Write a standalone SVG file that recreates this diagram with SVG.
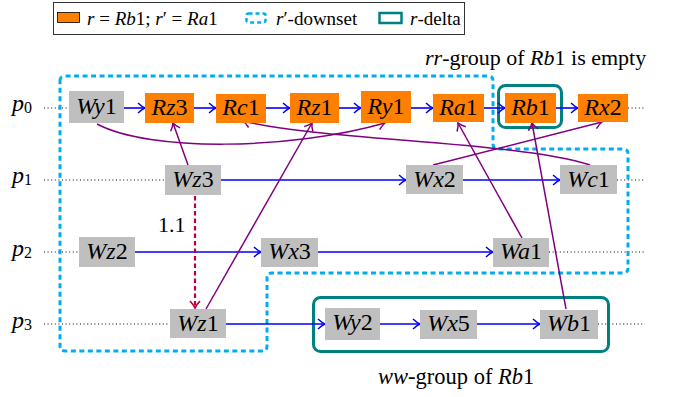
<svg xmlns="http://www.w3.org/2000/svg" width="682" height="397" viewBox="0 0 682 397" font-family="'Liberation Serif', 'Times New Roman', Times, 'DejaVu Serif', serif">
  <style>
    text { font-family: 'Liberation Serif', 'Times New Roman', Times, 'DejaVu Serif', serif; fill: #000; }
    .lbl { font-size: 24px; text-anchor: middle; font-style: italic; }
    .d { font-style: normal; }
    .i { font-style: italic; }
    .w { fill: #bfbfbf; }
    .r { fill: #ff8000; }
    .po { fill: none; stroke: #0000ff; stroke-width: 1.6; marker-end: url(#ablue); }
    .rf { fill: none; stroke: #800080; stroke-width: 1.5; marker-end: url(#apurple); }
    .dot { fill: none; stroke: #000; stroke-width: 1; stroke-dasharray: 1 2.6; }
    .down { fill: none; stroke: #00aeef; stroke-width: 3; stroke-dasharray: 5 3.5; }
    .delta { fill: none; stroke: #008080; stroke-width: 3; }
    .pn { font-size: 24px; font-style: italic; }
    .sub { font-size: 16px; font-style: normal; }
  </style>
  <defs>
    <marker id="ablue" viewBox="-9 -7 11 14" refX="0" refY="0" markerWidth="11" markerHeight="14" orient="auto" markerUnits="userSpaceOnUse">
      <path d="M-7,-5 Q-3,-1.2 0,0 Q-3,1.2 -7,5" fill="none" stroke="#0000ff" stroke-width="1.5"/>
    </marker>
    <marker id="apurple" viewBox="-9 -7 11 14" refX="0" refY="0" markerWidth="11" markerHeight="14" orient="auto" markerUnits="userSpaceOnUse">
      <path d="M-7,-5 Q-3,-1.2 0,0 Q-3,1.2 -7,5" fill="none" stroke="#800080" stroke-width="1.5"/>
    </marker>
    <marker id="acrim" viewBox="-9 -7 11 14" refX="0" refY="0" markerWidth="11" markerHeight="14" orient="auto" markerUnits="userSpaceOnUse">
      <path d="M-7,-5 Q-3,-1.2 0,0 Q-3,1.2 -7,5" fill="none" stroke="#bf0040" stroke-width="1.8"/>
    </marker>
  </defs>

  <!-- legend -->
  <g id="legend">
    <rect x="53.5" y="2.5" width="411" height="32" fill="#fff" stroke="#333" stroke-width="1"/>
    <rect x="57.5" y="12.5" width="22" height="10" fill="#ff8000" stroke="#000" stroke-width="0.8"/>
    <text x="87" y="25" font-size="19"><tspan class="i">r</tspan> = <tspan class="i">Rb</tspan>1; <tspan class="i">r</tspan>′ = <tspan class="i">Ra</tspan>1</text>
    <rect x="246.5" y="13.5" width="19" height="9" rx="2" fill="none" stroke="#00aeef" stroke-width="2.5" stroke-dasharray="4 3"/>
    <text x="276" y="25" font-size="19"><tspan class="i">r</tspan>′-downset</text>
    <rect x="379.5" y="13" width="22" height="10" fill="none" stroke="#008080" stroke-width="2.5"/>
    <text x="410" y="25" font-size="19"><tspan class="i">r</tspan>-delta</text>
  </g>

  <!-- captions -->
  <text x="425" y="65" font-size="22"><tspan class="i">rr</tspan>-group of <tspan class="i">Rb</tspan>1 is empty</text>
  <text x="378" y="384" font-size="22.5"><tspan class="i">ww</tspan>-group of <tspan class="i">Rb</tspan>1</text>

  <!-- process labels and thread lines -->
  <g id="threads">
    <text x="12" y="111" class="pn">p<tspan class="sub" dy="2">0</tspan></text>
    <text x="12" y="183" class="pn">p<tspan class="sub" dy="2">1</tspan></text>
    <text x="12" y="256" class="pn">p<tspan class="sub" dy="2">2</tspan></text>
    <text x="12" y="328" class="pn">p<tspan class="sub" dy="2">3</tspan></text>
    <path class="dot" d="M44,108 H69 M44,180 H165 M44,252 H79 M44,324 H170"/>
    <path class="dot" d="M628,108 H645 M617,180 H645 M549,252 H646 M598,324 H645"/>
  </g>

  <!-- r'-downset region -->
  <path id="downset" class="down" d="M60,81 Q60,76 65,76 H488 Q493,76 493,81 V144 Q493,149 498,149 H623 Q628,149 628,154 V268 Q628,273 623,273 H272 Q267,273 267,278 V346 Q267,351 262,351 H65 Q60,351 60,346 Z"/>

  <!-- r-delta regions -->
  <rect id="delta-rb1" class="delta" x="498.5" y="85.5" width="63" height="42" rx="7"/>
  <rect id="ww-group" class="delta" x="313.5" y="297.5" width="295" height="54" rx="7"/>

  <!-- connectors -->
  <g id="connectors">
    <!-- program order -->
    <path class="po" d="M124,108 H145"/>
    <path class="po" d="M194,108 H216"/>
    <path class="po" d="M266,108 H290"/>
    <path class="po" d="M339,108 H361"/>
    <path class="po" d="M411,108 H433"/>
    <path class="po" d="M484,108 H505"/>
    <path class="po" d="M556,108 H578"/>
    <path class="po" d="M221,180 H406"/>
    <path class="po" d="M463,180 H560"/>
    <path class="po" d="M135,252 H261"/>
    <path class="po" d="M318,252 H493"/>
    <path class="po" d="M226,324 H325"/>
    <path class="po" d="M380,324 H420"/>
    <path class="po" d="M477,324 H540"/>
    <!-- reads-from -->
    <path class="rf" d="M97,124 C150,152 290,150 385,123"/>
    <path class="rf" d="M590,165 C515,141 325,141 243,121"/>
    <path class="rf" d="M188,165 L173,123"/>
    <path class="rf" d="M206,309 L312,123"/>
    <path class="rf" d="M433,165 L602,122"/>
    <path class="rf" d="M522,238 L458,123"/>
    <path class="rf" d="M566,309 L532,123"/>
    <!-- dependency 1.1 -->
    <path d="M195,196 V308" fill="none" stroke="#bf0040" stroke-width="2.2" stroke-dasharray="4.5 3" marker-end="url(#acrim)"/>
    <text x="158" y="232" font-size="22">1.1</text>
  </g>

  <!-- events of p0 -->
  <g id="Wy1"><rect class="w" x="69" y="91" width="55" height="32"/><text class="lbl" x="96.5" y="114">Wy<tspan class="d">1</tspan></text></g>
  <g id="Rz3"><rect class="r" x="145" y="93" width="49" height="30"/><text class="lbl" x="169.5" y="115">Rz<tspan class="d">3</tspan></text></g>
  <g id="Rc1"><rect class="r" x="216" y="94" width="50" height="29"/><text class="lbl" x="241" y="115">Rc<tspan class="d">1</tspan></text></g>
  <g id="Rz1"><rect class="r" x="290" y="93" width="49" height="30"/><text class="lbl" x="314.5" y="115">Rz<tspan class="d">1</tspan></text></g>
  <g id="Ry1"><rect class="r" x="361" y="91" width="50" height="32"/><text class="lbl" x="386" y="114">Ry<tspan class="d">1</tspan></text></g>
  <g id="Ra1"><rect class="r" x="433" y="94" width="51" height="28"/><text class="lbl" x="458.5" y="115">Ra<tspan class="d">1</tspan></text></g>
  <g id="Rb1"><rect class="r" x="505" y="93" width="51" height="30"/><text class="lbl" x="530.5" y="115">Rb<tspan class="d">1</tspan></text></g>
  <g id="Rx2"><rect class="r" x="578" y="94" width="50" height="28"/><text class="lbl" x="603" y="115">Rx<tspan class="d">2</tspan></text></g>

  <!-- events of p1 -->
  <g id="Wz3"><rect class="w" x="165" y="165" width="56" height="30"/><text class="lbl" x="193" y="187">Wz<tspan class="d">3</tspan></text></g>
  <g id="Wx2"><rect class="w" x="406" y="165" width="57" height="29"/><text class="lbl" x="434.5" y="187">Wx<tspan class="d">2</tspan></text></g>
  <g id="Wc1"><rect class="w" x="560" y="165" width="57" height="29"/><text class="lbl" x="588.5" y="187">Wc<tspan class="d">1</tspan></text></g>

  <!-- events of p2 -->
  <g id="Wz2"><rect class="w" x="79" y="237" width="56" height="30"/><text class="lbl" x="107" y="259">Wz<tspan class="d">2</tspan></text></g>
  <g id="Wx3"><rect class="w" x="261" y="238" width="57" height="29"/><text class="lbl" x="289.5" y="259">Wx<tspan class="d">3</tspan></text></g>
  <g id="Wa1"><rect class="w" x="493" y="238" width="56" height="29"/><text class="lbl" x="521" y="259">Wa<tspan class="d">1</tspan></text></g>

  <!-- events of p3 -->
  <g id="Wz1"><rect class="w" x="170" y="309" width="56" height="29"/><text class="lbl" x="198" y="331">Wz<tspan class="d">1</tspan></text></g>
  <g id="Wy2"><rect class="w" x="325" y="308" width="55" height="32"/><text class="lbl" x="352.5" y="330">Wy<tspan class="d">2</tspan></text></g>
  <g id="Wx5"><rect class="w" x="420" y="310" width="57" height="29"/><text class="lbl" x="448.5" y="331">Wx<tspan class="d">5</tspan></text></g>
  <g id="Wb1"><rect class="w" x="540" y="310" width="58" height="29"/><text class="lbl" x="569" y="331">Wb<tspan class="d">1</tspan></text></g>
</svg>
